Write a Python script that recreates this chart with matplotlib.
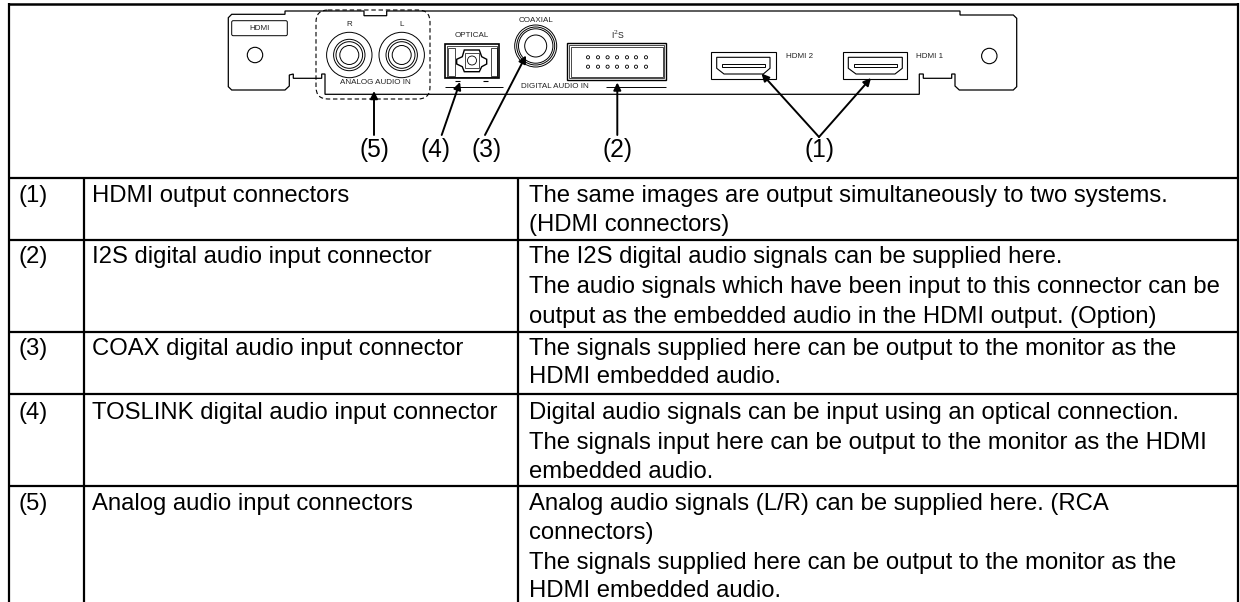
import matplotlib
matplotlib.use("Agg")
import matplotlib.pyplot as plt
from matplotlib.patches import Circle, Polygon, Rectangle, FancyBboxPatch

plt.rcParams["font.family"] = ["Liberation Sans", "DejaVu Sans"]

# table contents
row_numbers = ["(1)", "(2)", "(3)", "(4)", "(5)"]
row_names = [
    "HDMI output connectors",
    "I2S digital audio input connector",
    "COAX digital audio input connector",
    "TOSLINK digital audio input connector",
    "Analog audio input connectors",
]
row_lines = [
    ["The same images are output simultaneously to two systems.",
     "(HDMI connectors)"],
    ["The I2S digital audio signals can be supplied here.",
     "The audio signals which have been input to this connector can be",
     "output as the embedded audio in the HDMI output. (Option)"],
    ["The signals supplied here can be output to the monitor as the",
     "HDMI embedded audio."],
    ["Digital audio signals can be input using an optical connection.",
     "The signals input here can be output to the monitor as the HDMI",
     "embedded audio."],
    ["Analog audio signals (L/R) can be supplied here. (RCA",
     "connectors)",
     "The signals supplied here can be output to the monitor as the",
     "HDMI embedded audio."],
]
row_baselines = [
    [202, 231],
    [263, 293, 323],
    [355, 383],
    [419, 449, 478],
    [510, 539, 569, 597],
]
row_lines_y = [177.5, 239.5, 332, 394, 486]

fig = plt.figure(figsize=(12.4, 6.02), dpi=100)
ax = fig.add_axes([0, 0, 1, 1])
ax.set_xlim(0, 1240)
ax.set_ylim(602, 0)
ax.axis("off")

TABLE_FS = 17.2
SMALL_FS = 5.8
LW = 1.0


def line(xs, ys, lw=LW, **kw):
    ax.plot(xs, ys, color="black", lw=lw, solid_capstyle="butt", **kw)


def circles(cx, cy, radii, lw=LW * 0.8):
    for r in radii:
        ax.add_patch(Circle((cx, cy), r, fill=False, ec="black", lw=lw))


def rect(x0, y0, x1, y1, lw=LW, **kw):
    ax.add_patch(Rectangle((x0, y0), x1 - x0, y1 - y0, fill=False, ec="black", lw=lw, **kw))


def small(x, y, s, fs=SMALL_FS):
    ax.text(x, y, s, fontsize=fs, ha="center", va="center", color="#222222")


# ------------------------------
# table frame
# ------------------------------
line([8.5, 8.5], [2.5, 602], lw=1.6)
line([1238, 1238], [2.5, 602], lw=1.6)
line([8.5, 1238], [3.5, 3.5], lw=1.8)
for y in row_lines_y:
    line([8.5, 1238], [y, y], lw=1.6)
line([84, 84], [row_lines_y[0], 602], lw=1.6)
line([518, 518], [row_lines_y[0], 602], lw=1.6)

for num, name, lines_, ys in zip(row_numbers, row_names, row_lines, row_baselines):
    ax.text(18, ys[0], num, fontsize=TABLE_FS, va="baseline")
    ax.text(92, ys[0], name, fontsize=TABLE_FS, va="baseline")
    for txt, y in zip(lines_, ys):
        ax.text(529, y, txt, fontsize=TABLE_FS, va="baseline")

# ------------------------------
# panel outline
# ------------------------------
outline = [
    (285, 11), (285, 14.3), (231.7, 14.3), (228.3, 17.7), (228.3, 86.7),
    (231.7, 90), (285, 90), (289.3, 86), (289.3, 75), (293.3, 74),
    (293.3, 78.3), (321.7, 78.3), (321.7, 74), (325, 74), (325, 94.3),
    (919.3, 94.3), (919.3, 74), (923.3, 74), (923.3, 78.3), (951.7, 78.3),
    (951.7, 74), (955, 74), (955, 86), (959.3, 90), (1013.3, 90),
    (1016.7, 86.7), (1016.7, 18.3), (1013.3, 15), (960, 15), (960, 11),
    (386.7, 11), (386.7, 15.7), (364, 15.7), (364, 11),
]
ax.add_patch(Polygon(outline, closed=True, fill=False, ec="black", lw=LW * 0.9))

# dashed box around analog inputs
ax.add_patch(FancyBboxPatch((328, 22), 90, 65, boxstyle="round,pad=12,rounding_size=12",
                            fill=False, ec="black", lw=LW * 0.8, ls=(0, (4, 2.5))))

# HDMI label and screw holes
ax.add_patch(FancyBboxPatch((232.7, 21.7), 53.6, 13, boxstyle="round,pad=1,rounding_size=1.5",
                            fill=False, ec="black", lw=LW * 0.7))
small(260, 28, "HDMI")
circles(255, 55, [7.7])
circles(989.3, 56, [7.7])

# analog RCA connectors
for cx, lab in [(349.3, "R"), (401.7, "L")]:
    circles(cx, 55, [22.7, 15.7, 13.3, 9.5], lw=0.7)
    small(cx, 24, lab)
small(375, 83, "ANALOG AUDIO IN")

# optical connector
small(471.7, 35.7, "OPTICAL")
rect(445, 44, 499, 78.3, lw=1.2)
rect(447, 46, 497, 76.5, lw=0.5)
rect(448.3, 48.3, 455, 76, lw=0.5)
rect(491, 48.3, 496.7, 76, lw=0.5)
shell = [(464.3, 50), (479.3, 50), (481.7, 56.7), (486.7, 59.3), (486.7, 64), (481.7, 66.7),
         (479.3, 71.7), (464.3, 71.7), (462.3, 66.7), (456.7, 64), (456.7, 59.3), (462.3, 56.7)]
ax.add_patch(Polygon(shell, closed=True, fill=False, ec="black", lw=1.0))
rect(465, 53.3, 479.3, 68.3, lw=0.5)
circles(472, 60.5, [4.5], lw=0.6)
line([455, 460], [80.5, 80.5], lw=0.8)
line([483.3, 488.3], [80.5, 80.5], lw=0.8)
line([445, 503.3], [87.3, 87.3], lw=0.7)

# coaxial connector
small(535.7, 20.7, "COAXIAL")
circles(535.7, 46, [21, 19, 17.2, 11], lw=0.7)

# I2S connector
ax.text(618, 35, "I$^{2}$S", fontsize=SMALL_FS + 0.5, ha="center", va="center", color="#222222",
        math_fontfamily="dejavuserif")
rect(567, 43.3, 666, 80, lw=1.0)
rect(568.7, 45, 664.3, 78.3, lw=0.5)
rect(570.5, 46.5, 662.5, 76.5, lw=0.5)
pin_x = [588, 598, 607.6, 617, 627, 636, 646]
for x in pin_x:
    for y in [57.3, 66.7]:
        circles(x, y, [1.6], lw=0.6)
small(555, 87, "DIGITAL AUDIO IN")
line([606, 666], [87.3, 87.3], lw=0.7)

# HDMI connectors
hdmi_x = [(710.7, 775.7, 716.7, 770, 724, 763.3, 721.7, 765, "HDMI 2", 799.3),
          (842.7, 907.3, 848.3, 902.3, 856, 895, 854.3, 896.7, "HDMI 1", 929.3)]
for x0, x1, a0, a1, b0, b1, s0, s1, lab, tx in hdmi_x:
    rect(x0, 52.3, x1, 79, lw=0.8)
    ax.add_patch(Polygon([(a0, 57.3), (a1, 57.3), (a1, 68.3), (b1, 74), (b0, 74), (a0, 68.3)],
                         closed=True, fill=False, ec="black", lw=0.8))
    rect(s0, 64, s1, 67.3, lw=0.7)
    small(tx, 56, lab)

# arrows with number labels
arrows = [
    ((374, 135), (374, 91)),
    ((441.7, 135), (460, 82)),
    ((485, 135), (526, 55.5)),
    ((617.3, 135), (617.3, 82.5)),
    ((819, 137), (761.5, 73.5)),
    ((819, 137), (871, 78)),
]
for start, end in arrows:
    ax.annotate("", xy=end, xytext=start,
                arrowprops=dict(arrowstyle="-|>", color="black", lw=1.4, mutation_scale=11,
                                shrinkA=0, shrinkB=0))

label_x = [(374, "(5)"), (435, "(4)"), (487, "(3)"), (617, "(2)"), (819, "(1)")]
for x, lab in label_x:
    ax.text(x, 150, lab, fontsize=17.7, ha="center", va="center")

fig.savefig("out.png", dpi=100)
